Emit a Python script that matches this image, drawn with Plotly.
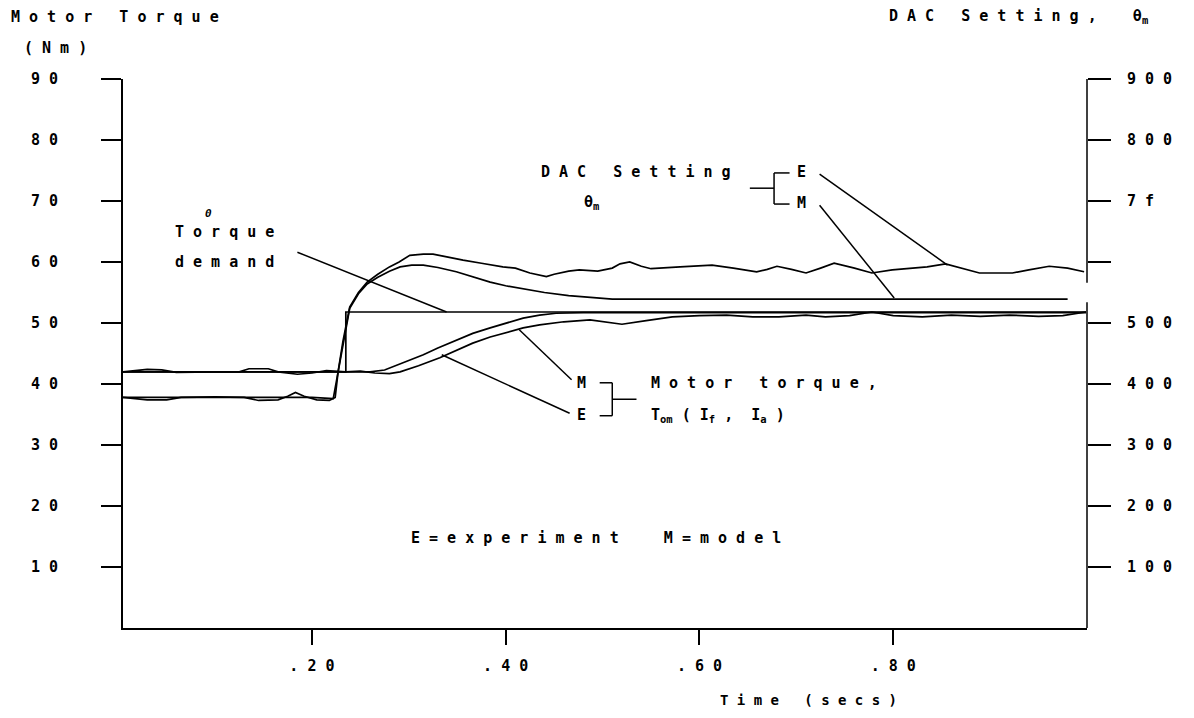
import plotly.graph_objects as go

FONT = "DejaVu Sans Mono"

def spaced(s):
    return " ".join(s)

# ---- data (time in secs, torque in Nm, DAC setting in counts) ----
t_demand = [0.005, 0.235, 0.999]
torque_demand = [42.0, 51.8, 51.8]

t_tm_model = [0.005, 0.26, 0.275, 0.29, 0.315, 0.33, 0.349, 0.366, 0.384, 0.40,
              0.418, 0.435, 0.452, 0.48, 0.999]
tm_model = [42.0, 42.0, 42.3, 43.2, 44.8, 45.9, 47.2, 48.3, 49.2, 50.0,
            50.8, 51.3, 51.6, 51.7, 51.7]

t_tm_exp = [0.005, 0.03, 0.045, 0.06, 0.10, 0.125, 0.135, 0.155, 0.165, 0.185,
            0.20, 0.215, 0.235, 0.25, 0.265, 0.28, 0.291, 0.31, 0.332, 0.35,
            0.366, 0.384, 0.401, 0.418, 0.435, 0.46, 0.487, 0.505, 0.52, 0.545,
            0.572, 0.60, 0.628, 0.655, 0.682, 0.71, 0.73, 0.755, 0.778, 0.80,
            0.83, 0.86, 0.89, 0.92, 0.95, 0.975, 0.999]
tm_exp = [42.0, 42.4, 42.3, 41.9, 42.0, 42.0, 42.5, 42.5, 42.0, 41.6,
          41.8, 42.2, 42.0, 42.1, 41.8, 41.7, 42.0, 43.0, 44.3, 45.6,
          46.7, 47.7, 48.5, 49.2, 49.7, 50.2, 50.5, 50.1, 49.8, 50.4,
          51.0, 51.2, 51.3, 51.0, 51.0, 51.3, 51.0, 51.2, 51.8, 51.2,
          51.0, 51.3, 51.1, 51.3, 51.1, 51.2, 51.8]

t_dac_exp = [0.005, 0.03, 0.05, 0.065, 0.10, 0.13, 0.145, 0.165, 0.175, 0.183,
             0.192, 0.205, 0.218, 0.224, 0.227, 0.232, 0.239, 0.248, 0.257, 0.268,
             0.28, 0.29, 0.301, 0.315, 0.325, 0.34, 0.356, 0.375, 0.397, 0.41,
             0.425, 0.442, 0.45, 0.465, 0.476, 0.495, 0.51, 0.518, 0.528, 0.54,
             0.55, 0.58, 0.60, 0.613, 0.635, 0.659, 0.67, 0.68, 0.695, 0.71,
             0.725, 0.739, 0.76, 0.778, 0.799, 0.82, 0.835, 0.854, 0.87, 0.889,
             0.905, 0.923, 0.94, 0.961, 0.98, 0.997]
dac_exp = [378, 374, 374, 378, 379, 378, 373, 374, 380, 386,
           380, 374, 373, 378, 420, 470, 526, 550, 567, 580,
           592, 600, 611, 613, 613, 608, 603, 598, 592, 590,
           582, 576, 580, 585, 587, 585, 590, 597, 600, 593,
           589, 592, 594, 595, 590, 584, 588, 593, 588, 582,
           590, 598, 590, 582, 587, 590, 592, 597, 590, 582,
           582, 582, 587, 593, 590, 584]

t_dac_model = [0.005, 0.10, 0.20, 0.222, 0.226, 0.232, 0.239, 0.248, 0.257, 0.268,
               0.28, 0.291, 0.303, 0.315, 0.33, 0.349, 0.365, 0.384, 0.40, 0.418,
               0.44, 0.465, 0.487, 0.51, 0.70, 0.98]
dac_model = [378, 378, 378, 376, 410, 465, 524, 548, 564, 575,
             585, 592, 595, 595, 591, 584, 576, 567, 561, 556,
             550, 545, 542, 539, 539, 539]

y_ticks = [10, 20, 30, 40, 50, 60, 70, 80, 90]
y_ticktext = ["1 0", "2 0", "3 0", "4 0", "5 0", "6 0", "7 0", "8 0", "9 0"]
y2_ticks = [100, 200, 300, 400, 500, 600, 700, 800, 900]
y2_ticktext = ["1 0 0", "2 0 0", "3 0 0", "4 0 0", "5 0 0", "", "7 f", "8 0 0", "9 0 0"]
x_ticks = [0.2, 0.4, 0.6, 0.8]
x_ticktext = [". 2 0", ". 4 0", ". 6 0", ". 8 0"]

line = dict(color="black", width=1.7)

fig = go.Figure()
fig.add_trace(go.Scatter(x=t_demand, y=torque_demand, mode="lines",
                         line=dict(color="black", width=1.7, shape="hv")))
fig.add_trace(go.Scatter(x=t_tm_model, y=tm_model, mode="lines", line=line))
fig.add_trace(go.Scatter(x=t_tm_exp, y=tm_exp, mode="lines", line=line))
fig.add_trace(go.Scatter(x=t_dac_exp, y=dac_exp, mode="lines", line=line, yaxis="y2"))
fig.add_trace(go.Scatter(x=t_dac_model, y=dac_model, mode="lines", line=line, yaxis="y2"))

anns = []

def txt(x, y, s, xanchor="center", size=15, xref="x", yref="y"):
    anns.append(dict(x=x, y=y, text=s, xref=xref, yref=yref, showarrow=False,
                     xanchor=xanchor, yanchor="middle",
                     font=dict(family=FONT, size=size, color="black", weight="bold")))

# titles outside the plot
txt(-0.118, 1.113, spaced("Motor Torque"), "left", xref="paper", yref="paper")
txt(-0.105, 1.056, spaced("(Nm)"), "left", xref="paper", yref="paper")
txt(0.793, 1.113, spaced("DAC Setting,") + "    θ<sub>m</sub>", "left", xref="paper", yref="paper")
txt(0.711, -0.131, "T i m e   ( s e c s )", size=14, xref="paper", yref="paper")

# labels inside the plot
txt(0.093, 68.0, "<i>0</i>", size=11)
txt(0.110, 64.9, spaced("Torque"))
txt(0.110, 60.0, spaced("demand"))
txt(0.535, 74.8, spaced("DAC Setting"))
txt(0.489, 69.7, "θ<sub>m</sub>")
txt(0.705, 74.8, "E")
txt(0.705, 69.7, "M")
txt(0.478, 40.2, "M")
txt(0.478, 34.9, "E")
txt(0.548, 40.2, spaced("Motor torque,"), "left")
txt(0.548, 34.8, "T<sub>om</sub> ( I<sub>f</sub> ,  I<sub>a</sub> )", "left")
txt(0.493, 14.8, spaced("E=experiment") + "     " + spaced("M=model"))

shapes = []

def seg(x0, y0, x1, y1, xref="x", yref="y"):
    shapes.append(dict(type="line", x0=x0, y0=y0, x1=x1, y1=y1, xref=xref, yref=yref,
                       line=dict(color="black", width=1.5)))

# pointer lines and brackets
seg(0.185, 61.6, 0.339, 51.8)
seg(0.652, 72.1, 0.677, 72.1)
seg(0.677, 74.6, 0.677, 69.5)
seg(0.677, 74.6, 0.693, 74.6)
seg(0.677, 69.5, 0.693, 69.5)
seg(0.724, 74.4, 0.856, 59.5)
seg(0.724, 69.3, 0.801, 54.1)
seg(0.497, 40.2, 0.510, 40.2)
seg(0.510, 40.2, 0.510, 34.8)
seg(0.497, 34.8, 0.510, 34.8)
seg(0.510, 37.5, 0.535, 37.5)
seg(0.414, 48.9, 0.468, 40.7)
seg(0.334, 44.8, 0.466, 35.2)
# right axis line with its break
seg(1, 0, 1, 53.4, xref="paper")
seg(1, 56.6, 1, 90, xref="paper")

fig.update_layout(
    width=1186, height=710,
    margin=dict(l=115, r=107, t=71, b=90),
    paper_bgcolor="white", plot_bgcolor="white",
    showlegend=False,
    font=dict(family=FONT, size=15, color="black", weight="bold"),
    xaxis=dict(range=[0.005, 1.0], tickvals=x_ticks, ticktext=x_ticktext,
               ticks="outside", ticklen=15, tickwidth=1.5, tickcolor="black",
               showline=True, linecolor="black", linewidth=1.8,
               showgrid=False, zeroline=False, ticklabelstandoff=8),
    yaxis=dict(range=[0, 90], tickvals=y_ticks, ticktext=y_ticktext,
               ticks="outside", ticklen=20, tickwidth=1.5, tickcolor="black",
               showline=True, linecolor="black", linewidth=1.8,
               showgrid=False, zeroline=False, ticklabelstandoff=40),
    yaxis2=dict(range=[0, 900], tickvals=y2_ticks, ticktext=y2_ticktext,
                overlaying="y", side="right",
                ticks="outside", ticklen=23, tickwidth=1.5, tickcolor="black",
                showline=False, showgrid=False, zeroline=False, ticklabelstandoff=13),
    annotations=anns,
    shapes=shapes,
)

fig.write_html("out.html")
